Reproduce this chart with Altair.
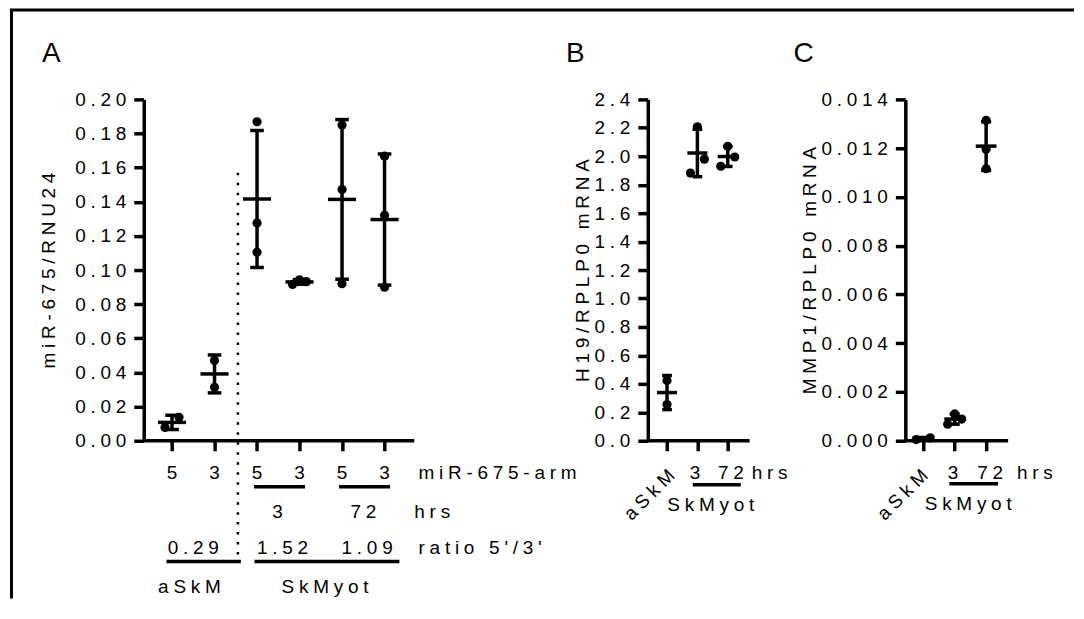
import altair as alt
import pandas as pd
import numpy as np

FONT = "Liberation Sans"
GAP = "\u2005"
FS = 19


def sp(s):
    return GAP.join(list(s))


# ---------------- data ----------------
# Panel A: miR-675/RNU24 ; order: aSkM 5', aSkM 3', 3h 5', 3h 3', 72h 5', 72h 3'
A_arm = ["5", "3", "5", "3", "5", "3"]
A_vals = [
    [0.0078, 0.0137],
    [0.0313, 0.0470],
    [0.1104, 0.1276, 0.1869],
    [0.0916, 0.0932, 0.0943],
    [0.0920, 0.1472, 0.1850],
    [0.0900, 0.1321, 0.1667],
]
A_hrs = ["3", "72"]
A_ratio = ["0.29", "1.52", "1.09"]
A_groups = ["aSkM", "SkMyot"]

# Panel B: H19/RPLP0 mRNA ; aSkM, SkMyot 3 h, SkMyot 72 h
B_vals = [[0.254, 0.4235], [1.882, 1.980, 2.207], [1.930, 1.995, 2.070]]
# Panel C: MMP1/RPLP0 mRNA
C_vals = [[0.00005, 0.00012], [0.00068, 0.00089, 0.00110], [0.01116, 0.01195, 0.01314]]
BC_hrs = ["3", "72"]

H = 342
LW = 3.5


def frames(vals, step_px, px_per_unit, mean_half=0.33, cap_half=0.16):
    pts, st = [], []
    for i, v in enumerate(vals, start=1):
        v = sorted(v)
        clusters = [[v[0]]]
        for a in v[1:]:
            if (a - clusters[-1][-1]) * px_per_unit < 15:
                clusters[-1].append(a)
            else:
                clusters.append([a])
        for cl in clusters:
            offs = {1: [0], 2: [-7, 7], 3: [-7, 7, 0]}[len(cl)]
            for a, o in zip(cl, offs):
                pts.append({"x": i + o / step_px, "y": a})
        m = float(np.mean(v))
        s = float(np.std(v, ddof=1))
        st.append({"c": i, "m": m, "lo": m - s, "hi": m + s,
                   "ml": i - mean_half, "mh": i + mean_half,
                   "cl": i - cap_half, "ch": i + cap_half})
    return pd.DataFrame(pts), pd.DataFrame(st)


def txt(X, xs, texts, py, align="center", size=FS, angle=0):
    df = pd.DataFrame({"x": xs, "t": [sp(t) for t in texts]})
    return alt.Chart(df).mark_text(font=FONT, fontSize=size, color="black", align=align,
                                   baseline="middle", angle=angle).encode(
        x=X("x"), y=alt.value(py), text="t:N")


def uline(X, x1s, x2s, py):
    df = pd.DataFrame({"a": x1s, "b": x2s})
    return alt.Chart(df).mark_rule(color="black", strokeWidth=3.5).encode(
        x=X("a"), x2="b", y=alt.value(py))


def letter(s, px, py):
    return alt.Chart(pd.DataFrame({"k": [0]})).mark_text(
        text=s, font=FONT, fontSize=28, color="black", align="left", baseline="middle").encode(
        x=alt.value(px), y=alt.value(py))


def panel(vals, xdom, width, ymax, yticks, yfmt, ytitle, title_x, axis_end, extra):
    step = width / (xdom[1] - xdom[0])
    ppu = H / ymax
    pts, st = frames(vals, step, ppu)
    n = len(vals)
    xs = alt.Scale(domain=xdom, nice=False, zero=False)
    ys = alt.Scale(domain=[0, ymax], nice=False, zero=False)
    xax = alt.Axis(values=list(range(1, n + 1)), labels=False, domain=False, grid=False,
                   ticks=True, tickSize=10, tickWidth=LW, tickColor="black", title=None)
    yax = alt.Axis(values=yticks, format=yfmt,
                   labelExpr="join(split(datum.label, ''), '" + GAP + "')",
                   grid=False, domainColor="black", domainWidth=LW, tickColor="black",
                   tickWidth=LW, tickSize=10, labelFont=FONT, labelFontSize=FS,
                   labelColor="black", labelPadding=8, title=sp(ytitle), titleFont=FONT,
                   titleFontSize=FS, titleFontWeight="normal", titleColor="black",
                   titleX=title_x, titleY=H / 2, titleAngle=270, titleAlign="center",
                   titleBaseline="middle")

    def X(f):
        return alt.X(f, type="quantitative", scale=xs, axis=xax)

    def Y(f):
        return alt.Y(f, type="quantitative", scale=ys, axis=yax)

    axis_line = alt.Chart(pd.DataFrame({"a": [xdom[0]], "b": [axis_end], "z": [0.0]})).mark_rule(
        color="black", strokeWidth=LW).encode(x=X("a"), x2="b", y=Y("z"))
    dots = alt.Chart(pts).mark_circle(size=85, color="black", opacity=1).encode(x=X("x"), y=Y("y"))
    err = alt.Chart(st).mark_rule(color="black", strokeWidth=LW).encode(x=X("c"), y=Y("lo"), y2="hi")
    capl = alt.Chart(st).mark_rule(color="black", strokeWidth=LW).encode(x=X("cl"), x2="ch", y=Y("lo"))
    caph = alt.Chart(st).mark_rule(color="black", strokeWidth=LW).encode(x=X("cl"), x2="ch", y=Y("hi"))
    meanb = alt.Chart(st).mark_rule(color="black", strokeWidth=LW).encode(x=X("ml"), x2="mh", y=Y("m"))
    layers = [axis_line, dots, err, capl, caph, meanb] + extra(X, Y)
    return alt.layer(*layers).properties(width=width, height=H)


def extra_A(X, Y):
    div = pd.DataFrame({"x": [2.55], "y": [0.157]})
    dotted = alt.Chart(div).mark_rule(color="black", strokeWidth=2.5, strokeDash=[2.5, 7.5]).encode(
        x=X("x"), y=Y("y"), y2=alt.value(464))
    one = pd.DataFrame({"k": [0]})
    border_l = alt.Chart(one).mark_rule(color="black", strokeWidth=3).encode(
        x=alt.value(-132.5), y=alt.value(-89.5), y2=alt.value(500))
    border_t = alt.Chart(one).mark_rule(color="black", strokeWidth=3).encode(
        x=alt.value(-134), x2=alt.value(932), y=alt.value(-89.5))
    return [
        dotted, border_l, border_t,
        txt(X, [1, 2, 3, 4, 5, 6], A_arm, 374),
        txt(X, [6.8], ["miR-675-arm"], 374, align="left"),
        uline(X, [2.93, 4.93], [4.13, 6.13], 388),
        txt(X, [3.48, 5.5], A_hrs, 413),
        txt(X, [6.7], ["hrs"], 413, align="left"),
        txt(X, [1.5, 3.6, 5.59], A_ratio, 449),
        txt(X, [6.8], ["ratio 5'/3'"], 449, align="left"),
        uline(X, [0.87, 2.94], [2.62, 6.35], 463),
        txt(X, [1.41, 4.6], A_groups, 489),
        letter("A", -102, -45),
    ]


def extra_B(X, Y):
    return [
        txt(X, [1.15], ["aSkM"], 374, align="right", angle=315),
        txt(X, [1.92, 3.1], BC_hrs, 374),
        txt(X, [3.79], ["hrs"], 374, align="left"),
        uline(X, [1.85], [3.43], 386),
        txt(X, [2.44], ["SkMyot"], 406),
        letter("B", -82, -45),
    ]


def extra_C(X, Y):
    return [
        txt(X, [1.05], ["aSkM"], 374, align="right", angle=315),
        txt(X, [1.95, 3.13], BC_hrs, 374),
        txt(X, [3.98], ["hrs"], 374, align="left"),
        uline(X, [1.83], [3.38], 385),
        txt(X, [2.43], ["SkMyot"], 405),
        letter("C", -112, -45),
    ]


A_ticks = [round(0.02 * i, 2) for i in range(11)]
B_ticks = [round(0.2 * i, 1) for i in range(13)]
C_ticks = [round(0.002 * i, 3) for i in range(8)]

pA = panel(A_vals, [0.335, 8.53], 349, 0.2, A_ticks, ".2f", "miR-675/RNU24", -95, 6.7, extra_A)
pB = panel(B_vals, [0.367, 3.72], 102, 2.4, B_ticks, ".1f", "H19/RPLP0 mRNA", -65, 3.72, extra_B)
pC = panel(C_vals, [0.43, 3.70], 103, 0.014, C_ticks, ".3f", "MMP1/RPLP0 mRNA", -96, 3.70, extra_C)

chart = alt.hconcat(pA, pB, pC, spacing=156, bounds="flush").properties(
    padding=0, background="white"
).configure_view(stroke=None)

chart.save("out.html", embed_options={"renderer": "svg", "actions": False})
